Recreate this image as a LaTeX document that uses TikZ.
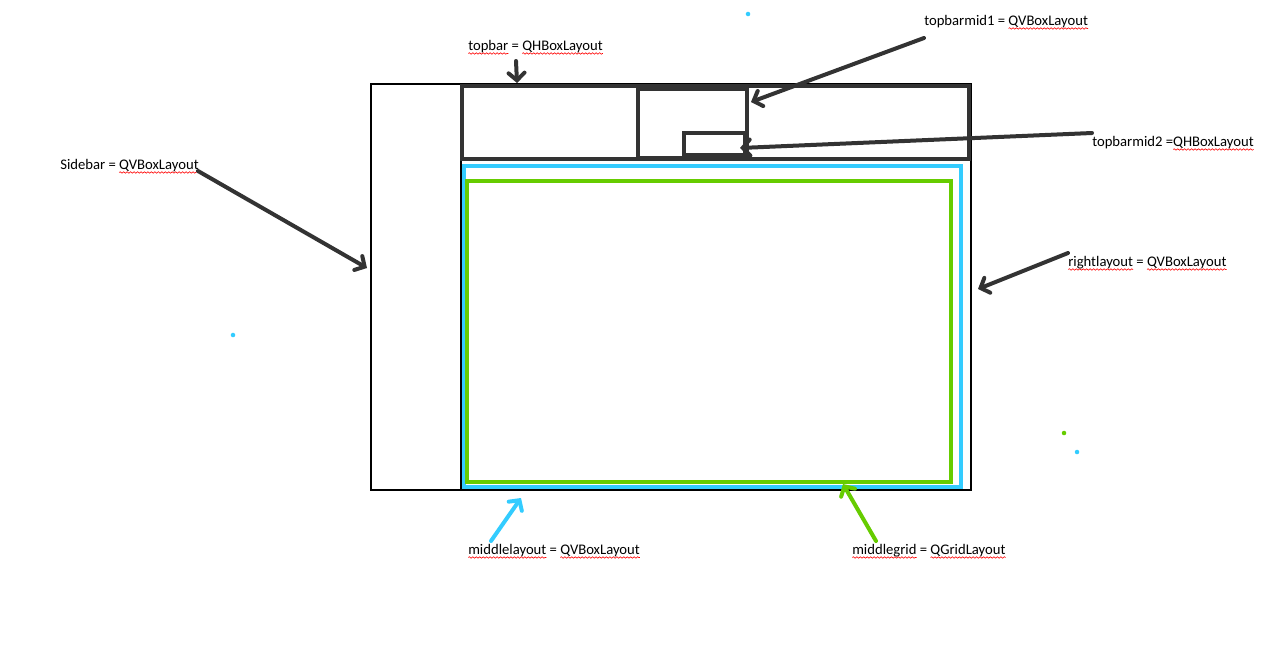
\documentclass[tikz,border=0pt]{standalone}
\usepackage{fontspec}
\setmainfont{Carlito}
\usetikzlibrary{arrows.meta,decorations.pathmorphing}
\definecolor{ink}{HTML}{333333}
\definecolor{skyb}{HTML}{33CCFF}
\definecolor{lime}{HTML}{66CC00}
\newcommand\sqw[1]{\tikz[baseline=(sqwrd.base)]{\node[inner sep=0pt,outer sep=0pt,anchor=base] (sqwrd) at (0,0) {#1};
  \draw[overlay,red,line width=0.45pt,decorate,decoration={snake,amplitude=0.55pt,segment length=2.6pt}] ([yshift=-2.6pt]sqwrd.base west) -- ([yshift=-2.6pt]sqwrd.base east);}}
\begin{document}
\begin{tikzpicture}[x=0.75pt,y=-0.75pt,
  lab/.style={anchor=base west,inner sep=0pt,font=\fontsize{11}{13}\selectfont},
  arr/.style={ink,line width=3pt,line cap=round,-{Straight Barb[length=5.5pt,width=12pt,line cap=round]}},
  inkbox/.style={ink,line width=2.6pt},
  dot/.style={radius=1.7pt}]
\useasboundingbox (0,0) rectangle (1269,651);
% main window
\draw[black,line width=2.2pt] (371,84) rectangle (971,490);
\draw[black,line width=1.4pt] (461,84) -- (461,490);
% topbar
\draw[inkbox] (462,86) rectangle (969,159);
\draw[inkbox] (638,89) rectangle (747,158);
\draw[inkbox] (684,133) rectangle (745,155);
% middle layouts
\draw[skyb,line width=2.8pt] (464,166) rectangle (961,487);
\draw[lime,line width=3.2pt] (467,181) rectangle (951,482);
% labels
\node[lab] (ltop) at (468,50) {\sqw{topbar} = \sqw{QHBoxLayout}};
\node[lab] (lmid1) at (924,25) {topbarmid1 = \sqw{QVBoxLayout}};
\node[lab] (lmid2) at (1092,146) {topbarmid2 =\sqw{QHBoxLayout}};
\node[lab] (lside) at (60,169) {Sidebar = \sqw{QVBoxLayout}};
\node[lab] (lright) at (1068,266) {\sqw{rightlayout} = \sqw{QVBoxLayout}};
\node[lab] (lmidl) at (468,554) {\sqw{middlelayout} = \sqw{QVBoxLayout}};
\node[lab] (lgrid) at (852,554) {\sqw{middlegrid} = \sqw{QGridLayout}};
% arrow coordinates
\coordinate (a1s) at (516,61); \coordinate (a1e) at (517,83);
\coordinate (a2s) at (924,38); \coordinate (a2e) at (751,102);
\coordinate (a3s) at (1092,133); \coordinate (a3e) at (740,148);
\coordinate (a4s) at (198,171); \coordinate (a4e) at (367,268);
\coordinate (a5s) at (1068,253); \coordinate (a5e) at (978,289);
\coordinate (a6s) at (491,541); \coordinate (a6e) at (521,498);
\coordinate (a7s) at (876,541); \coordinate (a7e) at (843,484);
\draw[arr] (a1s) -- (a1e);
\draw[arr] (a2s) -- (a2e);
\draw[arr] (a3s) -- (a3e);
\draw[arr] (a4s) -- (a4e);
\draw[arr] (a5s) -- (a5e);
\draw[arr,skyb] (a6s) -- (a6e);
\draw[arr,lime] (a7s) -- (a7e);
% stray dots
\fill[skyb] (748,14) circle[dot];
\fill[skyb] (233,335) circle[dot];
\fill[skyb] (1077,452) circle[dot];
\fill[lime] (1064,433) circle[dot];
\end{tikzpicture}
\end{document}
